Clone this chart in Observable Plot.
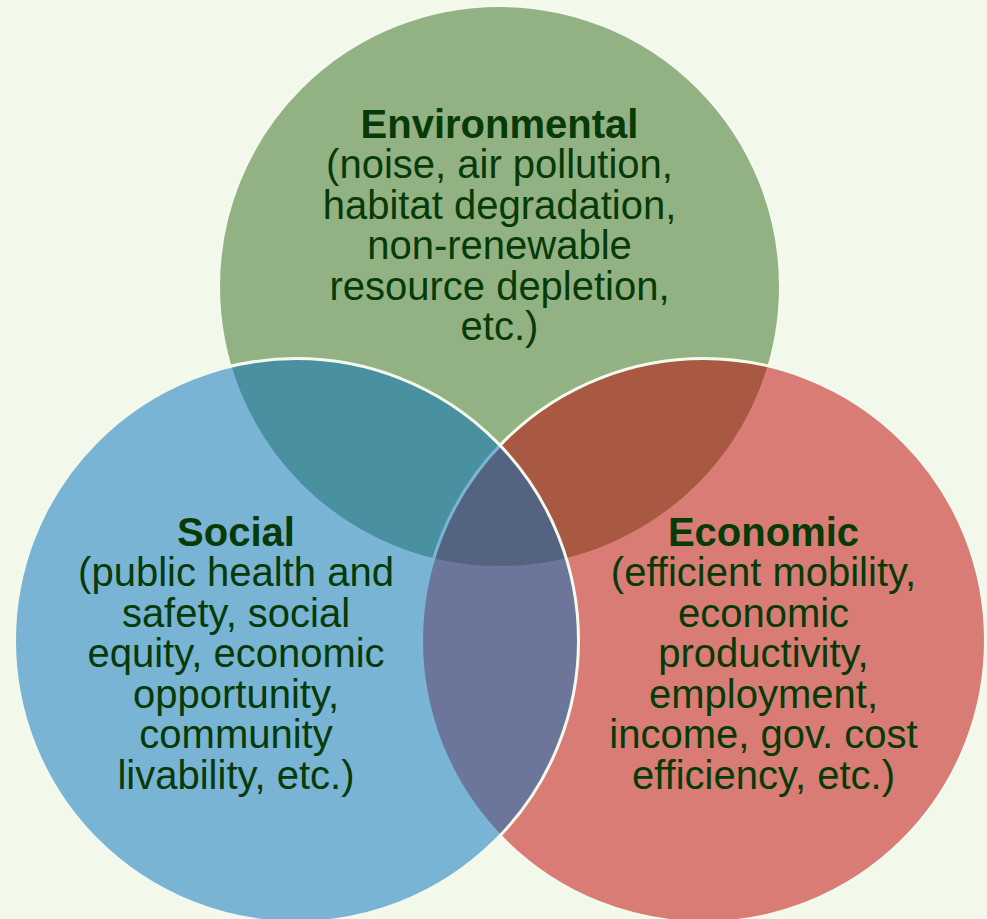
<!DOCTYPE html>
<html>
<head>
<meta charset="utf-8">
<script src="https://cdn.jsdelivr.net/npm/d3@7"></script>
<script src="https://cdn.jsdelivr.net/npm/@observablehq/plot@0.6"></script>
<style>
  html, body { margin: 0; padding: 0; background: #f2f8ea; }
  #chart svg { display: block; }
</style>
</head>
<body>
<div id="chart"></div>
<script>
// Circle data (diagram units), drawn in this order
const circleNames = ["Environmental", "Economic", "Social"];
const circleX = [499, 703, 296];
const circleY = [286, 640, 640];
const circleR = [281, 282, 282];
const circleColors = ["rgb(52,108,28)", "rgb(192,0,0)", "rgb(0,112,192)"];

// Labels
const labelTitles = ["Environmental", "Social", "Economic"];
const labelBodies = [
  ["(noise, air pollution,", "habitat degradation,", "non-renewable", "resource depletion,", "etc.)"],
  ["(public health and", "safety, social", "equity, economic", "opportunity,", "community", "livability, etc.)"],
  ["(efficient mobility,", "economic", "productivity,", "employment,", "income, gov. cost", "efficiency, etc.)"]
];
const labelX = [499, 235.5, 763];
const labelY = [137, 545, 545];

const fontSize = 40;
const lineGap = 40.5;
const textColor = "#063a06";

const circles = circleNames.map((name, i) => ({
  name, x: circleX[i], y: circleY[i], r: circleR[i], color: circleColors[i]
}));
const labels = labelTitles.map((t, i) => ({
  title: t,
  body: labelBodies[i].join("\n"),
  x: labelX[i],
  y: labelY[i],
  bodyY: labelY[i] + lineGap - 0.71 * fontSize
}));

const chart = Plot.plot({
  width: 987,
  height: 919,
  margin: 0,
  x: { domain: [0, 987], range: [0, 987], axis: null },
  y: { domain: [0, 919], range: [0, 919], axis: null },
  r: { type: "identity" },
  color: { type: "identity" },
  style: { background: "#f2f8ea", overflow: "hidden" },
  marks: [
    Plot.dot(circles, {
      x: "x", y: "y", r: "r",
      sort: null,
      fill: "color", fillOpacity: 0.5,
      stroke: "#f4f9ee", strokeWidth: 3
    }),
    Plot.text(labels, {
      x: "x", y: "y", text: "title",
      fontSize, fontWeight: "bold", fill: textColor,
      fontFamily: "Liberation Sans, Arial, sans-serif",
      textAnchor: "middle", lineAnchor: "bottom"
    }),
    Plot.text(labels, {
      x: "x", y: "bodyY", text: "body",
      fontSize, fill: textColor,
      fontFamily: "Liberation Sans, Arial, sans-serif",
      textAnchor: "middle", lineAnchor: "top", lineHeight: lineGap / fontSize
    })
  ]
});
document.getElementById("chart").appendChild(chart);
</script>
</body>
</html>
